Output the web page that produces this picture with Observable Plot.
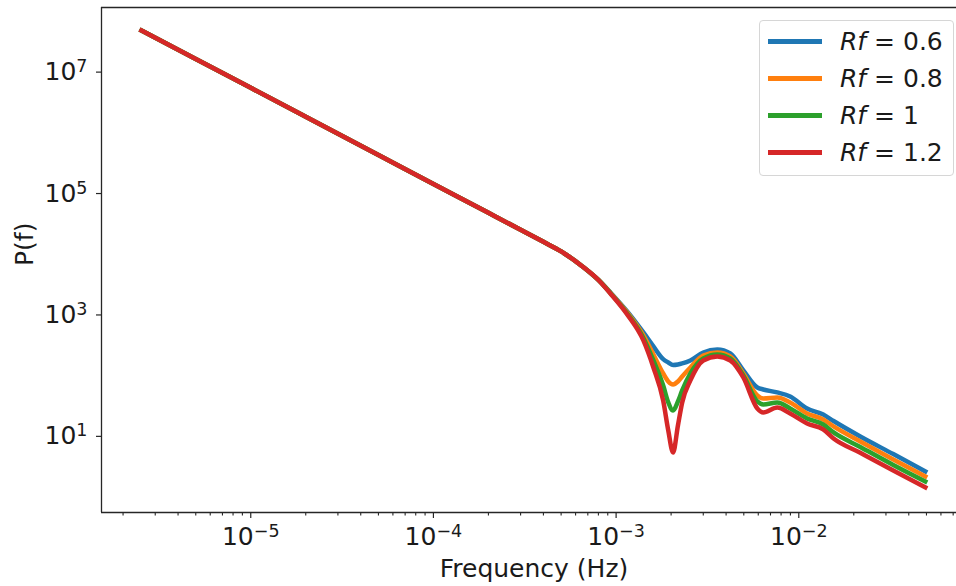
<!DOCTYPE html>
<html><head><meta charset="utf-8">
<script src="https://cdn.jsdelivr.net/npm/d3@7"></script>
<script src="https://cdn.jsdelivr.net/npm/@observablehq/plot@0.6"></script>
<style>
html,body{margin:0;padding:0;background:#fff;overflow:hidden;}
#wrap{position:relative;width:956px;height:586px;font-family:"DejaVu Sans",sans-serif;}
#wrap svg{display:block;}
.legend{position:absolute;left:759px;top:20px;width:193px;height:154px;border:1px solid #d6d6d6;border-radius:4px;background:rgba(255,255,255,0.8);}
.legend .h{position:absolute;left:8px;width:54px;height:4.5px;}
.legend .t{position:absolute;left:80px;height:37px;line-height:37px;font-size:25px;white-space:nowrap;color:#1a1a1a;}
</style></head><body><div id="wrap"></div>
<script>
// Frequency (Hz) samples shared by all series
const freq = [2.46e-6, 5e-6, 1e-5, 2e-5, 5e-5, 1e-4, 2e-4, 3e-4, 4e-4, 5e-4, 6.6e-4, 8e-4, 9.3e-4,
  1.15e-3, 1.41e-3, 1.6e-3, 1.81e-3, 1.93e-3, 2.05e-3, 2.18e-3, 2.3e-3, 2.55e-3, 3.0e-3,
  3.58e-3, 4.22e-3, 4.97e-3, 5.93e-3, 6.39e-3, 7.62e-3, 8.97e-3, 1.11e-2, 1.36e-2, 1.55e-2,
  2.17e-2, 3.29e-2, 5.05e-2];
// P(f) for each Rf
const pRf06 = [5.05e7, 1.644e7, 5.51e6, 1.842e6, 4.32e5, 1.439e5, 4.81e4, 2.53e4, 1.60e4, 1.112e4, 6.18e3, 3.77e3, 2350,
  1142, 515, 303, 187, 165, 150, 153, 159, 178, 241,
  270, 232, 122, 63.9, 59.2, 52.9, 45.4, 28.8, 22.9, 17.9,
  9.96, 5.11, 2.54];
const pRf08 = [5.05e7, 1.644e7, 5.51e6, 1.842e6, 4.32e5, 1.439e5, 4.81e4, 2.53e4, 1.60e4, 1.112e4, 6.18e3, 3.77e3, 2320,
  1100, 460, 223, 108.7, 80.2, 71.6, 80.2, 97.0, 136.5, 215,
  241, 207, 108.7, 47.2, 42.1, 43.7, 36.2, 23.8, 19.0, 14.6,
  8.24, 4.16, 2.10];
const pRf10 = [5.05e7, 1.644e7, 5.51e6, 1.842e6, 4.32e5, 1.439e5, 4.81e4, 2.53e4, 1.60e4, 1.112e4, 6.18e3, 3.77e3, 2290,
  1058, 418, 178, 68.9, 36.2, 26.7, 37.6, 57.0, 108.7, 192,
  223, 192, 100.8, 37.6, 33.5, 36.2, 28.8, 19.7, 15.7, 11.6,
  6.69, 3.38, 1.74];
const pRf12 = [5.05e7, 1.644e7, 5.51e6, 1.842e6, 4.32e5, 1.439e5, 4.81e4, 2.53e4, 1.60e4, 1.112e4, 6.18e3, 3.77e3, 2260,
  1020, 380, 136.5, 39.0, 12.5, 5.43, 15.1, 36.2, 83.4, 178,
  207, 178, 93.4, 28.8, 24.8, 29.9, 23.8, 16.3, 13.0, 9.24,
  5.37, 2.75, 1.39];

const seriesLabels = ["0.6", "0.8", "1", "1.2"];
const seriesValues = [pRf06, pRf08, pRf10, pRf12];
const colors = ["#1f77b4", "#ff7f0e", "#2ca02c", "#d62728"];

const xDomain = [1.524e-6, 0.0730];
const yDomain = [0.557, 1.16e8];
const xMajorTicks = [1e-5, 1e-4, 1e-3, 1e-2];
const xMinorTicks = [2e-6,3e-6,4e-6,5e-6,6e-6,7e-6,8e-6,9e-6,
  2e-5,3e-5,4e-5,5e-5,6e-5,7e-5,8e-5,9e-5,
  2e-4,3e-4,4e-4,5e-4,6e-4,7e-4,8e-4,9e-4,
  2e-3,3e-3,4e-3,5e-3,6e-3,7e-3,8e-3,9e-3,
  2e-2,3e-2,4e-2,5e-2,6e-2,7e-2];
const yTicks = [1e1, 1e3, 1e5, 1e7];
const xLabel = "Frequency (Hz)";
const yLabel = "P(f)";

const rows = [];
seriesValues.forEach((vals, si) => vals.forEach((v, i) => rows.push({f: freq[i], p: v, s: seriesLabels[si]})));

const ink = "#1a1a1a";
const axisInk = "#262626";
const expFormat = d => "E" + Math.round(Math.log10(d));

const chart = Plot.plot({
  width: 956, height: 586,
  marginLeft: 101, marginRight: 0, marginTop: 7, marginBottom: 74,
  style: {fontFamily: "DejaVu Sans", fontSize: "25px", color: ink, background: "white"},
  x: {type: "log", domain: xDomain, label: null},
  y: {type: "log", domain: yDomain, label: null},
  marks: [
    ...seriesLabels.map((s, i) => Plot.line(rows.filter(d => d.s === s), {
      x: "f", y: "p", stroke: colors[i], strokeWidth: 4.5, curve: "monotone-x", strokeLinecap: "butt"
    })),
    Plot.ruleY([yDomain[1]], {stroke: axisInk, strokeWidth: 1.3}),
    Plot.ruleY([yDomain[0]], {stroke: axisInk, strokeWidth: 1.3}),
    Plot.ruleX([xDomain[0]], {stroke: axisInk, strokeWidth: 1.3}),
    Plot.axisX({ticks: xMinorTicks, tickSize: 3.5, tickFormat: () => "", label: null, stroke: axisInk, strokeWidth: 1.1}),
    Plot.axisX({ticks: xMajorTicks, tickSize: 6, tickPadding: 9, tickFormat: expFormat, label: null,
      stroke: axisInk, strokeWidth: 1.2, fill: ink, fontSize: 25}),
    Plot.axisY({ticks: yTicks, tickSize: 5, tickPadding: 9, tickFormat: expFormat, label: null,
      stroke: axisInk, strokeWidth: 1.2, fill: ink, fontSize: 25}),
    Plot.text([xLabel], {text: d => d, frameAnchor: "bottom", lineAnchor: "bottom", dy: 64, dx: 5, fontSize: 25, fill: ink}),
    Plot.text([yLabel], {text: d => d, frameAnchor: "left", lineAnchor: "bottom", rotate: -90, dx: -69, dy: 6, fontSize: 25, fill: ink})
  ]
});

// mathtext-like exponents: 10 with superscript
const NS = "http://www.w3.org/2000/svg";
chart.querySelectorAll("text").forEach(t => {
  const m = /^E(-?\d+)$/.exec(t.textContent);
  if (!m) return;
  const e = m[1].replace("-", "\u2212");
  t.textContent = "";
  const b = document.createElementNS(NS, "tspan");
  b.textContent = "10";
  const s = document.createElementNS(NS, "tspan");
  s.setAttribute("font-size", "17.5");
  s.setAttribute("dy", "-8");
  s.textContent = e;
  t.append(b, s);
});

const wrap = document.getElementById("wrap");
wrap.appendChild(chart);

// legend
const legend = document.createElement("div");
legend.className = "legend";
const lineYs = [41.7, 78.7, 115.7, 152.7];
seriesLabels.forEach((s, i) => {
  const h = document.createElement("div");
  h.className = "h";
  h.style.top = (lineYs[i] - 2.25 - 21) + "px";
  h.style.background = colors[i];
  legend.appendChild(h);
  const t = document.createElement("div");
  t.className = "t";
  t.style.top = (lineYs[i] - 18.5 - 21) + "px";
  t.innerHTML = "<i>Rf</i> = " + s;
  legend.appendChild(t);
});
wrap.appendChild(legend);
</script></body></html>
